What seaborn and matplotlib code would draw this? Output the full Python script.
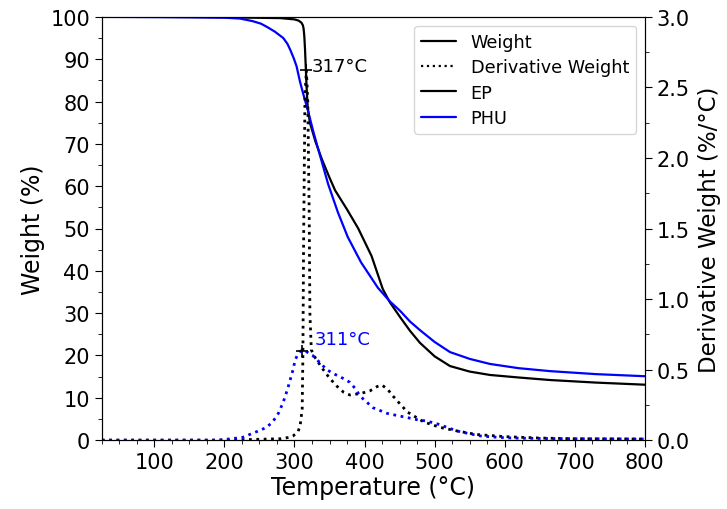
import matplotlib
matplotlib.use("Agg")
import matplotlib.pyplot as plt
from matplotlib.lines import Line2D
from matplotlib.ticker import MultipleLocator, FormatStrFormatter
import seaborn as sns

# Thermogravimetric curves (temperature in °C)
ep_temp = [25, 100, 200, 280, 300, 306, 310, 312, 313, 314, 315, 316, 317, 318, 319, 322,
           330, 339, 350, 358, 375, 391, 410, 426, 436, 451, 465, 479, 500, 522, 550,
           579, 620, 665, 730, 800]
ep_weight = [100, 100, 99.9, 99.7, 99.4, 99.1, 98.6, 98.0, 97.2, 95.5, 92.5, 88.5, 84.5, 81.0,
             78.5, 75.0, 70.5, 66.4, 62.0, 59.0, 54.5, 50.0, 43.5, 35.7, 32.6, 29.0, 25.8,
             23.0, 19.8, 17.5, 16.2, 15.4, 14.8, 14.2, 13.6, 13.1]

phu_temp = [25, 150, 200, 222, 240, 252, 261, 272, 284, 290, 294, 299, 303, 308, 313, 319,
            327, 336, 348, 362, 376, 395, 419, 436, 451, 465, 479, 500, 522, 550, 579,
            620, 665, 730, 800]
phu_weight = [100, 99.9, 99.8, 99.6, 99.0, 98.4, 97.6, 96.5, 95.0, 93.6, 92.2, 90.2, 88.3,
              84.6, 81.5, 78.0, 72.8, 67.5, 60.5, 53.8, 48.0, 42.0, 36.0, 32.8, 30.5,
              28.0, 26.0, 23.2, 20.8, 19.2, 18.0, 17.0, 16.3, 15.6, 15.1]

ep_dtemp = [25, 200, 280, 293, 298, 305, 308, 311, 312, 313, 315, 317, 319, 321, 322, 324,
            330, 341, 350, 361, 370, 379, 394, 408, 418, 425, 433, 441, 450, 461, 484,
            508, 532, 560, 600, 650, 700, 800]
ep_deriv = [0, 0, 0.01, 0.02, 0.03, 0.06, 0.10, 0.22, 0.6, 1.4, 2.45, 2.62, 2.4, 1.6, 0.9,
            0.64, 0.58, 0.50, 0.44, 0.38, 0.34, 0.32, 0.33, 0.35, 0.38, 0.39, 0.36, 0.31,
            0.26, 0.20, 0.13, 0.09, 0.065, 0.04, 0.025, 0.015, 0.01, 0.008]

phu_dtemp = [25, 190, 210, 226, 246, 260, 269, 277, 284, 290, 294, 298, 301, 305, 308, 311,
             316, 326, 336, 346, 356, 365, 372, 379, 386, 394, 403, 412, 422, 432, 446,
             461, 475, 489, 504, 518, 532, 550, 565, 590, 612, 650, 700, 800]
phu_deriv = [0, 0, 0.01, 0.02, 0.06, 0.09, 0.13, 0.19, 0.27, 0.36, 0.43, 0.50, 0.57, 0.61,
             0.63, 0.635, 0.63, 0.60, 0.55, 0.50, 0.47, 0.45, 0.43, 0.41, 0.37, 0.31, 0.27,
             0.23, 0.21, 0.19, 0.175, 0.16, 0.145, 0.135, 0.115, 0.09, 0.065, 0.045, 0.03,
             0.02, 0.015, 0.012, 0.01, 0.008]

# Peak temperatures of the derivative curves
ep_peak = (317, 2.62)
phu_peak = (311, 0.635)

legend_labels = ["Weight", "Derivative Weight", "EP", "PHU"]

sns.set_style("ticks")
plt.rcParams["font.family"] = ["DejaVu Sans"]
plt.rcParams.update({
    "text.color": "black",
    "axes.labelcolor": "black",
    "axes.edgecolor": "black",
    "xtick.color": "black",
    "ytick.color": "black",
})

fig, ax = plt.subplots(figsize=(7.27, 5.10), dpi=100)
fig.subplots_adjust(left=0.140, right=0.887, top=0.965, bottom=0.135)
ax2 = ax.twinx()

sns.lineplot(x=ep_temp, y=ep_weight, ax=ax, color="black", linewidth=1.6)
sns.lineplot(x=phu_temp, y=phu_weight, ax=ax, color="blue", linewidth=1.6)
sns.lineplot(x=ep_dtemp, y=ep_deriv, ax=ax2, color="black", linewidth=2.0, linestyle=":")
sns.lineplot(x=phu_dtemp, y=phu_deriv, ax=ax2, color="blue", linewidth=2.0, linestyle=":")

ax2.plot([ep_peak[0]], [ep_peak[1]], marker="+", color="black", markersize=9, mew=1.2)
ax2.plot([phu_peak[0]], [phu_peak[1]], marker="+", color="black", markersize=9, mew=1.2)
ax2.annotate(f"{ep_peak[0]}°C", xy=ep_peak, xytext=(4, 3), textcoords="offset points",
             ha="left", va="center", fontsize=13, color="black")
ax2.annotate(f"{phu_peak[0]}°C", xy=phu_peak, xytext=(9, 8), textcoords="offset points",
             ha="left", va="center", fontsize=13, color="blue")

ax.set_xlim(25, 800)
ax.set_ylim(0, 100)
ax2.set_ylim(0, 3.0)
ax.xaxis.set_major_locator(MultipleLocator(100))
ax.xaxis.set_minor_locator(MultipleLocator(25))
ax.yaxis.set_major_locator(MultipleLocator(10))
ax.yaxis.set_minor_locator(MultipleLocator(5))
ax2.yaxis.set_major_locator(MultipleLocator(0.5))
ax2.yaxis.set_minor_locator(MultipleLocator(0.25))
ax2.yaxis.set_major_formatter(FormatStrFormatter("%.1f"))

ax.set_xlabel("Temperature (°C)", fontsize=17, labelpad=2)
ax.set_ylabel("Weight (%)", fontsize=17)
ax2.set_ylabel("Derivative Weight (%/°C)", fontsize=16.5, labelpad=6)
ax.tick_params(axis="both", which="major", labelsize=15, length=5)
ax2.tick_params(axis="y", which="major", labelsize=15, length=5)
ax.tick_params(which="minor", length=3)
ax2.tick_params(which="minor", length=3)

handles = [
    Line2D([], [], color="black", linewidth=1.6),
    Line2D([], [], color="black", linewidth=1.6, linestyle=":"),
    Line2D([], [], color="black", linewidth=1.6),
    Line2D([], [], color="blue", linewidth=1.6),
]
ax2.legend(handles, legend_labels, loc="upper right", fontsize=12.7, frameon=True,
           labelspacing=0.42)

fig.savefig("out.png", dpi=100)
